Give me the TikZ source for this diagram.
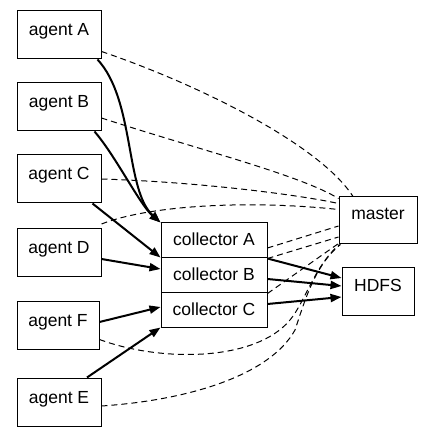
\documentclass[tikz,border=0pt]{standalone}
\usepackage{fontspec}
\setmainfont{Liberation Sans}
\usetikzlibrary{arrows.meta}
\begin{document}
\begin{tikzpicture}[x=1pt,y=-1pt,
  every node/.style={font=\fontsize{17.5}{21}\selectfont},
  box/.style={draw,line width=1pt,inner sep=0pt,minimum width=84pt,minimum height=48pt},
  agentbox/.style={box,text height=13pt,text depth=11pt},
  collbox/.style={box,minimum width=106pt,minimum height=35pt,text height=13pt,text depth=2.6pt},
  srvbox/.style={box,text height=13pt,text depth=15.2pt},
  flow/.style={line width=2pt,-{Triangle[length=11pt,width=8pt]}},
  ctrl/.style={line width=1pt,dash pattern=on 6pt off 4pt}]
\useasboundingbox (0,0) rectangle (439,438);
% agents
\node[agentbox] (agA) at (59,35) {agent A};
\node[agentbox] (agB) at (59,107) {agent B};
\node[agentbox] (agC) at (59,179) {agent C};
\node[agentbox] (agD) at (59,252.5) {agent D};
\node[agentbox,minimum width=82pt] (agF) at (58,325.5) {agent F};
\node[agentbox] (agE) at (59,402) {agent E};
% collectors
\node[collbox] (colA) at (214,240.5) {collector A};
\node[collbox] (colB) at (214,275.5) {collector B};
\node[collbox,minimum height=34pt] (colC) at (214,310) {collector C};
% servers
\node[srvbox,minimum width=78pt,minimum height=47pt] (master) at (378,220.5) {master};
\node[srvbox,minimum width=72pt,minimum height=48pt,text depth=15pt] (hdfs) at (378,292) {HDFS};
% data flow
\draw[flow] ([xshift=-4pt]agA.south east) .. controls (135,100) and (125,190) .. (colA.north west);
\draw[flow] ([xshift=-7pt]agB.south east) .. controls (115,155) and (140,205) .. (colA.north west);
\draw[flow] ([xshift=-9pt]agC.south east) -- (colB.north west);
\draw[flow] ([yshift=-6.5pt]agD.east) -- ([yshift=6.5pt]colB.west);
\draw[flow] ([yshift=3.5pt]agF.east) -- ([yshift=3pt]colC.west);
\draw[flow] ([xshift=28pt]agE.north) -- (colC.south west);
\draw[flow] (colA.south east) -- ([yshift=14pt]hdfs.west);
\draw[flow] ([yshift=-3.5pt]colB.east) -- ([yshift=6pt]hdfs.west);
\draw[flow] ([yshift=6pt]colC.east) -- ([yshift=-5pt]hdfs.west);
% control
\draw[ctrl] ([yshift=8pt]agA.south east) .. controls (200,85) and (320,145) .. ([xshift=-25pt]master.north);
\draw[ctrl] ([yshift=-11pt]agB.east) .. controls (200,150) and (300,175) .. ([yshift=-2pt]master.north west);
\draw[ctrl] (agC.east) .. controls (200,182) and (300,195) .. ([yshift=-7pt]master.north west);
\draw[ctrl] ([yshift=4pt]agD.north east) .. controls (150,205) and (250,200) .. ([yshift=-13pt]master.north west);
\draw[ctrl] ([yshift=-7.5pt]colA.east) -- ([yshift=-5.5pt]master.west);
\draw[ctrl] (colA.south east) -- ([yshift=-16.5pt]master.west);
\draw[ctrl] (colB.south east) -- ([yshift=1pt]master.south west);
\draw[ctrl] ([yshift=-14pt]agF.east) .. controls (160,362) and (255,362) .. (290,320)
  .. controls (305,302) and (315,265) .. ([xshift=1pt]master.south west);
\draw[ctrl] ([yshift=-4pt]agE.east) .. controls (190,400) and (270,375) .. (295,330)
  .. controls (305,300) and (315,265) .. ([xshift=2pt]master.south west);
\end{tikzpicture}
\end{document}
